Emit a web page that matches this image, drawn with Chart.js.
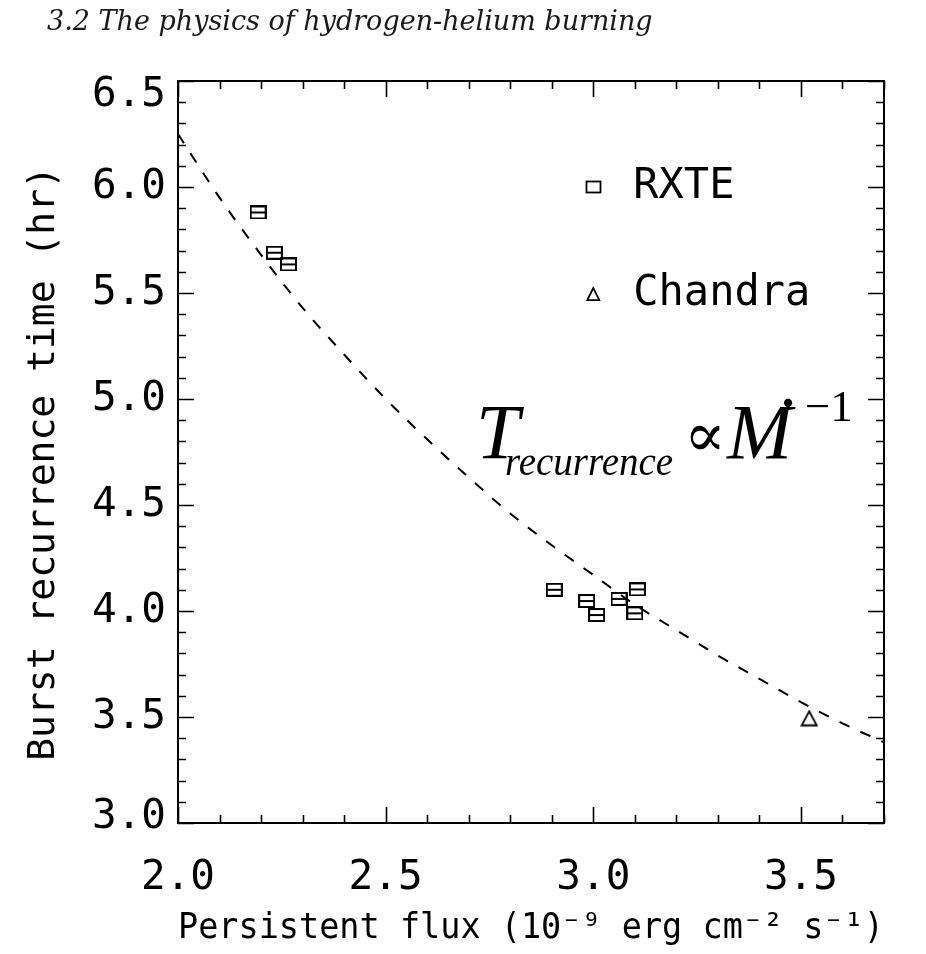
<!DOCTYPE html>
<html>
<head>
<meta charset="utf-8">
<script src="https://cdn.jsdelivr.net/npm/chart.js@4.4.1/dist/chart.umd.min.js"></script>
<style>
  html, body { margin: 0; padding: 0; background: #fff; }
  #wrap { position: relative; width: 926px; height: 954px; }
  #c { position: absolute; left: 0; top: 0; }
  #header { position: absolute; left: 47px; top: 7px; font: italic 27px/27px 'DejaVu Serif', serif; color: #1a1a1a; white-space: nowrap; }
</style>
</head>
<body>
<div id="wrap">
  <canvas id="c" width="926" height="954"></canvas>
  <div id="header">3.2 The physics of hydrogen-helium burning</div>
</div>
<script>
// values
const fluxRXTE = [2.193, 2.232, 2.266, 2.906, 2.984, 3.008, 3.062, 3.100, 3.106];
const timeRXTE = [5.88, 5.69, 5.635, 4.10, 4.047, 3.981, 4.057, 3.989, 4.102];
const fluxChandra = [3.520];
const timeChandra = [3.494];
// dashed T ∝ 1/Mdot curve, read along its length
const fluxCurve = [2.0, 2.1, 2.2, 2.3, 2.4, 2.5, 2.6, 2.7, 2.8, 2.9, 3.0, 3.1, 3.2, 3.3, 3.4, 3.5, 3.6, 3.7];
const timeCurve = [6.25, 5.95, 5.68, 5.43, 5.21, 5.00, 4.81, 4.63, 4.46, 4.31, 4.17, 4.03, 3.91, 3.79, 3.68, 3.57, 3.47, 3.38];
const xTickLabels = ['2.0', '2.5', '3.0', '3.5'];
const yTickLabels = ['3.0', '3.5', '4.0', '4.5', '5.0', '5.5', '6.0', '6.5'];

const mono = "'DejaVu Sans Mono', monospace";
const isMajor = v => Math.abs(v * 2 - Math.round(v * 2)) < 1e-6;
const labelFor = (list, v) => list.find(l => Math.abs(parseFloat(l) - v) < 1e-6) || '';

function boxMark(mid) {
    const c = document.createElement('canvas');
    c.width = 17; c.height = 14;
    const g = c.getContext('2d');
    g.strokeStyle = '#000';
    g.lineWidth = 2;
    g.strokeRect(1, 1, 15, 12);
    if (mid) { g.beginPath(); g.moveTo(1, 7); g.lineTo(16, 7); g.stroke(); }
    return c;
}
function triMark() {
    const c = document.createElement('canvas');
    c.width = 18; c.height = 17;
    const g = c.getContext('2d');
    g.strokeStyle = '#000';
    g.lineWidth = 1.8;
    g.beginPath(); g.moveTo(9, 1.5); g.lineTo(16.5, 15.5); g.lineTo(1.5, 15.5); g.closePath(); g.stroke();
    return c;
}

// IDL-style frame with inward ticks on all four sides
const frame = {
    id: 'frame',
    afterDraw(chart) {
        const { ctx, chartArea: a, scales: { x, y } } = chart;
        ctx.save();
        ctx.strokeStyle = '#000';
        ctx.lineWidth = 1.6;
        ctx.beginPath();
        x.ticks.forEach(t => {
            const p = Math.round(x.getPixelForValue(t.value)) + 0.5;
            const len = isMajor(t.value) ? 16 : 8;
            ctx.moveTo(p, a.bottom); ctx.lineTo(p, a.bottom - len);
            ctx.moveTo(p, a.top); ctx.lineTo(p, a.top + len);
        });
        y.ticks.forEach(t => {
            const p = Math.round(y.getPixelForValue(t.value)) + 0.5;
            const len = isMajor(t.value) ? 16 : 8;
            ctx.moveTo(a.left, p); ctx.lineTo(a.left + len, p);
            ctx.moveTo(a.right, p); ctx.lineTo(a.right - len, p);
        });
        ctx.stroke();
        ctx.lineWidth = 2;
        ctx.strokeRect(a.left, a.top, a.right - a.left, a.bottom - a.top);
        ctx.restore();
    }
};

// in-plot legend and the scaling-law label
const notes = {
    id: 'notes',
    afterDatasetsDraw(chart) {
        const { ctx, scales: { x, y } } = chart;
        ctx.save();
        ctx.fillStyle = '#000';
        ctx.strokeStyle = '#000';
        ctx.textAlign = 'left';
        ctx.textBaseline = 'alphabetic';

        const lx = x.getPixelForValue(3.0);
        const l1 = y.getPixelForValue(6.0), l2 = y.getPixelForValue(5.49);
        ctx.lineWidth = 1.8;
        ctx.strokeRect(Math.round(lx) - 6.5, Math.round(l1) - 5.5, 14, 11);
        ctx.beginPath();
        ctx.moveTo(lx, l2 - 7); ctx.lineTo(lx + 6, l2 + 5); ctx.lineTo(lx - 6, l2 + 5); ctx.closePath();
        ctx.stroke();
        ctx.font = "42px " + mono;
        ctx.fillText(chart.data.datasets[0].label, lx + 40, l1 + 11);
        ctx.fillText(chart.data.datasets[1].label, lx + 40, l2 + 10);

        const x0 = x.getPixelForValue(2.7175), b = y.getPixelForValue(4.722);
        ctx.font = "italic 78px 'Liberation Serif', serif";
        ctx.fillText('T', x0, b);
        ctx.font = "italic 39px 'Liberation Serif', serif";
        ctx.fillText('recurrence', x0 + 29, b + 17);
        ctx.font = "62px 'Liberation Serif', 'DejaVu Serif', serif";
        ctx.fillText('\u221D', x0 + 208, b - 2);
        ctx.font = "italic 78px 'Liberation Serif', serif";
        ctx.fillText('M', x0 + 251, b);
        ctx.textAlign = 'center';
        ctx.font = "78px 'Liberation Serif', serif";
        ctx.fillText('\u02D9', x0 + 312, b - 7);
        ctx.textAlign = 'left';
        ctx.font = "45px 'Liberation Serif', serif";
        ctx.fillText('\u22121', x0 + 329, b - 37);
        ctx.restore();
    }
};

// the end labels of the y axis sit inside the frame, as in IDL output
const yLabel = v => {
    const s = labelFor(yTickLabels, v);
    if (s === yTickLabels[yTickLabels.length - 1]) return ['', s];
    if (s === yTickLabels[0]) return [s, ''];
    return s;
};
const yLabelFont = c => {
    const v = c.tick ? c.tick.value : 0;
    if (Math.abs(v - 6.5) < 1e-6) return { family: mono, size: 41, lineHeight: '28px' };
    if (Math.abs(v - 3.0) < 1e-6) return { family: mono, size: 41, lineHeight: '12px' };
    return { family: mono, size: 41 };
};

new Chart(document.getElementById('c'), {
    type: 'scatter',
    data: {
        datasets: [{
            label: 'RXTE',
            data: fluxRXTE.map((f, i) => ({ x: f, y: timeRXTE[i] })),
            pointStyle: boxMark(true),
            pointRadius: 7
        }, {
            label: 'Chandra',
            data: fluxChandra.map((f, i) => ({ x: f, y: timeChandra[i] })),
            pointStyle: triMark(),
            pointRadius: 8
        }, {
            label: 'fit',
            data: fluxCurve.map((f, i) => ({ x: f, y: timeCurve[i] })),
            showLine: true,
            borderColor: '#000',
            borderWidth: 2,
            borderDash: [11, 12],
            cubicInterpolationMode: 'monotone',
            pointRadius: 0,
            fill: false
        }]
    },
    options: {
        responsive: false,
        animation: false,
        layout: { padding: { top: 81, right: 42, left: 0, bottom: 0 } },
        scales: {
            x: {
                type: 'linear', min: 2.0, max: 3.7,
                afterFit: s => { s.height = 131; },
                grid: { display: false, drawTicks: false },
                border: { display: false },
                ticks: {
                    stepSize: 0.1, autoSkip: false, maxRotation: 0, padding: 31,
                    color: '#000', font: { family: mono, size: 41 },
                    callback: v => labelFor(xTickLabels, v)
                },
                title: {
                    display: true, text: 'Persistent flux (10\u207B\u2079 erg cm\u207B\u00B2 s\u207B\u00B9)',
                    color: '#000', font: { family: mono, size: 36 }, padding: { top: 0, bottom: 4 }
                }
            },
            y: {
                type: 'linear', min: 3.0, max: 6.5,
                afterFit: s => { s.width = 178; },
                grid: { display: false, drawTicks: false },
                border: { display: false },
                ticks: {
                    stepSize: 0.1, autoSkip: false, padding: 12,
                    color: '#000', font: yLabelFont,
                    callback: yLabel
                },
                title: {
                    display: true, text: 'Burst recurrence time (hr) ',
                    color: '#000', font: { family: mono, size: 38 }, padding: { top: 21, bottom: 0 }
                }
            }
        },
        plugins: { legend: { display: false }, tooltip: { enabled: false } }
    },
    plugins: [frame, notes]
});
</script>
</body>
</html>
